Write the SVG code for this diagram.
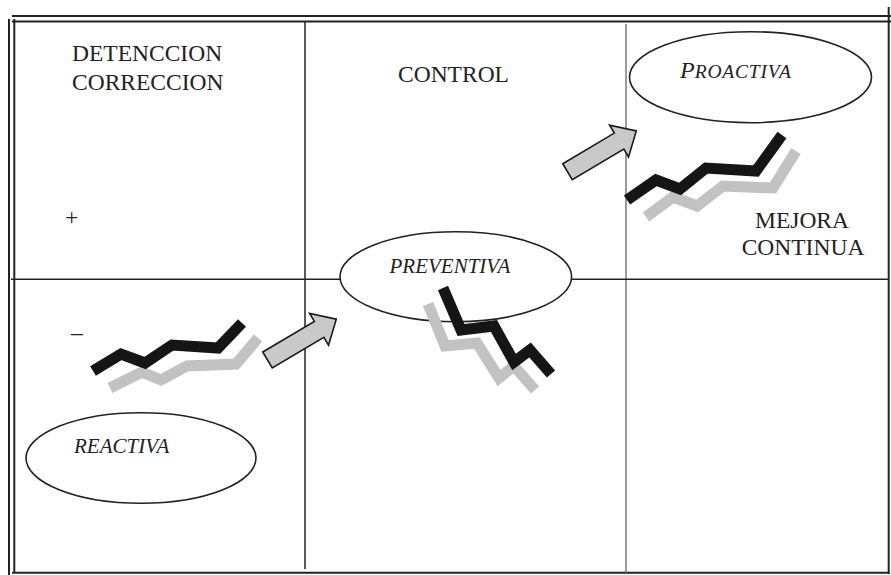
<svg xmlns="http://www.w3.org/2000/svg" width="891" height="575" viewBox="0 0 891 575">
  <defs>
    <style>
      .frame { stroke: #222; stroke-width: 2; fill: none; }
      .div { stroke: #222; stroke-width: 1.5; fill: none; }
      .divlight { stroke: #666; stroke-width: 1.3; fill: none; }
      .label { font-family: "Liberation Serif", "Times New Roman", serif; font-size: 23.5px; fill: #222; }
      .oval { fill: #fff; stroke: #222; stroke-width: 1.6; }
      .otext { font-family: "Liberation Serif", "Times New Roman", serif; font-style: italic; font-size: 21px; fill: #222; }
      .zz-dark { fill: none; stroke: #151515; stroke-width: 11; stroke-linejoin: miter; stroke-linecap: butt; }
      .zz-grey { fill: none; stroke: #c2c2c2; stroke-width: 11; stroke-linejoin: miter; stroke-linecap: butt; }
      .barrow { fill: #c9c9c9; stroke: #1a1a1a; stroke-width: 1.6; stroke-linejoin: miter; }
    </style>
    <!-- block arrow pointing along +x, tail at origin -->
    <polygon id="blockArrow" points="0,-9.3 60,-9.3 60,-18.5 80,0 60,18.5 60,9.3 0,9.3"/>
  </defs>

  <rect width="891" height="575" fill="#fff"/>

  <!-- outer double frame -->
  <g id="frame">
    <line class="frame" x1="12" y1="16" x2="891" y2="16"/>
    <line class="frame" x1="12" y1="21.5" x2="891" y2="21.5"/>
    <line class="frame" x1="9" y1="19" x2="9" y2="575"/>
    <line class="frame" x1="14.3" y1="19" x2="14.3" y2="573"/>
    <line class="frame" x1="888.7" y1="7" x2="888.7" y2="574"/>
    <line class="frame" x1="12" y1="572.8" x2="889.5" y2="572.8" stroke-width="2.5"/>
  </g>

  <!-- grid dividers -->
  <g id="grid">
    <line class="div" x1="305" y1="22" x2="305" y2="569"/>
    <line class="divlight" x1="626" y1="24" x2="626" y2="573"/>
    <line class="div" x1="11" y1="279.3" x2="888" y2="279.3"/>
  </g>

  <!-- row / column labels -->
  <g id="label-detencion">
    <text class="label" x="72" y="61">DETENCCION</text>
    <text class="label" x="72" y="90">CORRECCION</text>
  </g>
  <g id="label-control">
    <text class="label" x="398" y="82">CONTROL</text>
  </g>
  <g id="label-plus">
    <text class="label" x="65" y="225">+</text>
  </g>
  <g id="label-minus">
    <text class="label" x="71" y="340" font-size="26">–</text>
  </g>
  <g id="label-mejora">
    <text class="label" x="802" y="227.7" text-anchor="middle">MEJORA</text>
    <text class="label" x="803" y="255" text-anchor="middle">CONTINUA</text>
  </g>

  <!-- stage ovals -->
  <g id="node-reactiva">
    <ellipse class="oval" cx="141" cy="458" rx="115" ry="45.3"/>
    <text class="otext" x="74" y="453.3">REACTIVA</text>
  </g>
  <g id="node-preventiva">
    <ellipse class="oval" cx="455.8" cy="276.7" rx="115.8" ry="45"/>
    <text class="otext" x="389.5" y="272.5">PREVENTIVA</text>
  </g>
  <g id="node-proactiva">
    <ellipse class="oval" cx="750.5" cy="77.2" rx="121" ry="45.5"/>
    <text class="otext" x="680" y="77.7"><tspan font-size="24">P</tspan><tspan font-size="19.5" letter-spacing="0.8">ROACTIVA</tspan></text>
  </g>

  <!-- trend zigzags (grey shadow under black line) -->
  <g id="trend-reactiva">
    <polyline class="zz-grey" points="110,388 142,372 161,380 187,366 236,364 258,338"/>
    <polyline class="zz-dark" points="93,371 121,354 145,363 172,345 218,348 242,323"/>
  </g>
  <g id="trend-preventiva">
    <polyline class="zz-grey" points="428,304 445,346 477,343 499,378 514,366 535,390"/>
    <polyline class="zz-dark" points="443,288 461,330 494,326 514,362 530,350 551,374"/>
  </g>
  <g id="trend-proactiva">
    <polyline class="zz-grey" points="646,217 673,197 697,206 723,186 773,188 796,151"/>
    <polyline class="zz-dark" points="627,200 656,180 680,189 706,168 756,171 782,135"/>
  </g>

  <!-- progression arrows between stages -->
  <g id="connectors">
    <use href="#blockArrow" class="barrow" transform="translate(267.5,360) rotate(-30.7)"/>
    <use href="#blockArrow" class="barrow" transform="translate(567.5,171.7) rotate(-30.7)"/>
  </g>
</svg>
